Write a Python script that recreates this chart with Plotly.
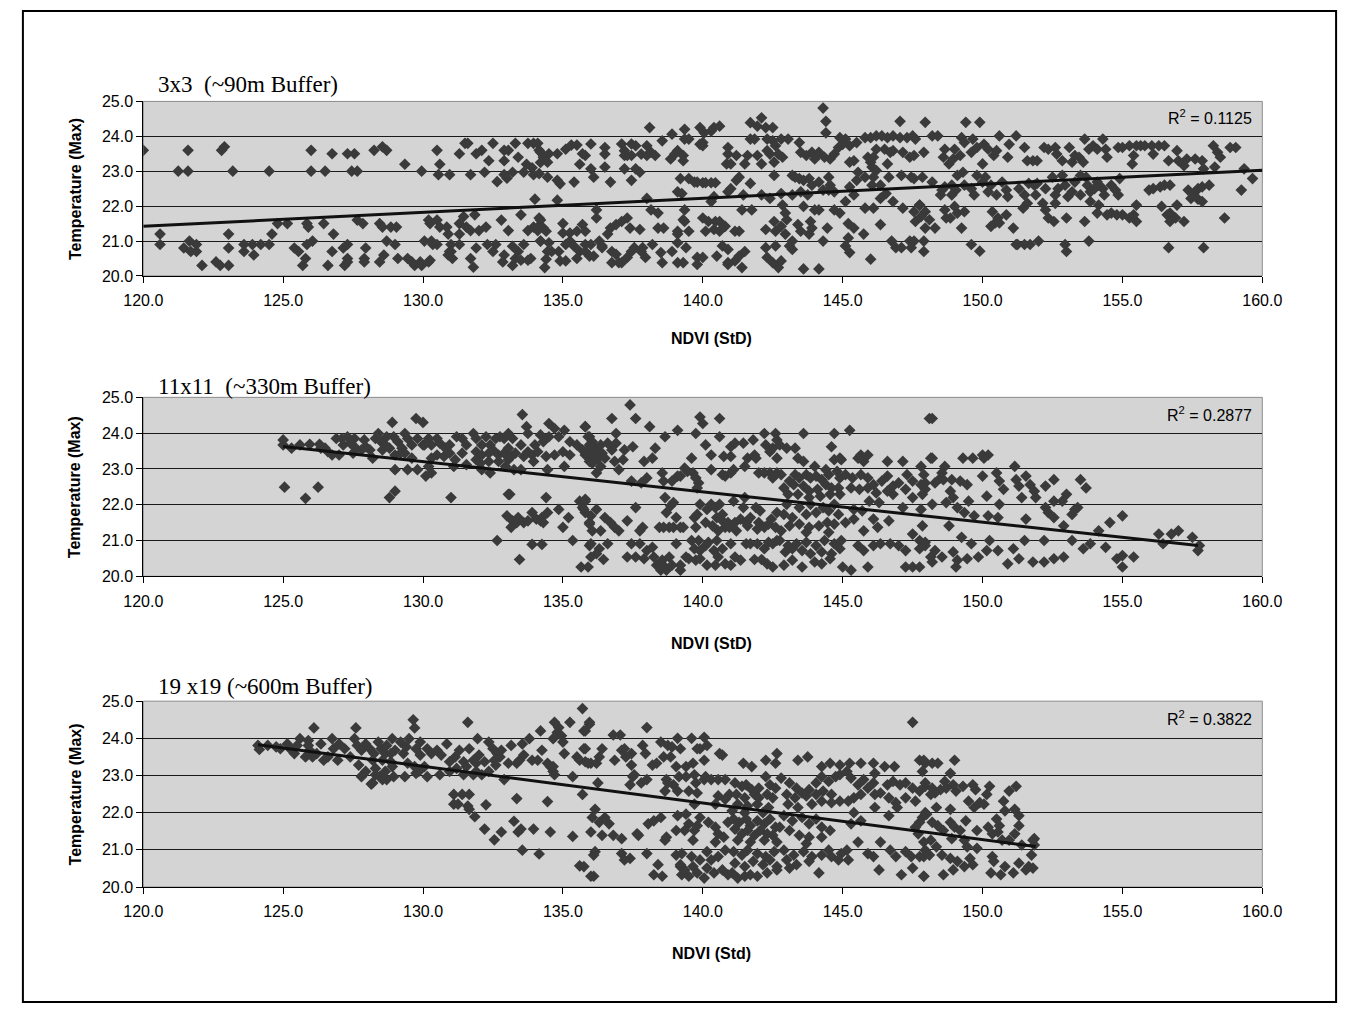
import plotly.graph_objects as go

# ---------------- data ----------------
panel_titles = ["3x3  (~90m Buffer)", "11x11  (~330m Buffer)", "19 x19 (~600m Buffer)"]
x_titles = ["NDVI (StD)", "NDVI (StD)", "NDVI (Std)"]
y_title = "Temperature (Max)"
r2_labels = ["0.1125", "0.2877", "0.3822"]

trend1_x = [120.0, 160.0]
trend1_y = [21.42, 23.03]
trend2_x = [125.0, 157.7]
trend2_y = [23.63, 20.86]
trend3_x = [124.1, 151.9]
trend3_y = [23.83, 21.09]

points1 = [
    (120.0, 23.6), (120.6, 21.2), (120.6, 20.9), (121.25, 23.0), (121.45, 20.8), (121.6, 23.6), (121.6, 23.0),
    (121.65, 21.0), (121.7, 20.7), (121.9, 20.7), (121.9, 20.9), (122.1, 20.3), (122.6, 20.4), (122.75, 20.3),
    (122.8, 23.6), (122.9, 23.7), (123.05, 21.2), (123.05, 20.8), (123.05, 20.3), (123.2, 23.0), (123.6, 20.7),
    (123.6, 20.9), (123.95, 20.6), (123.9, 20.9), (124.2, 20.9), (124.5, 23.0), (124.5, 20.9), (124.6, 21.2),
    (124.8, 21.5), (125.15, 21.5), (125.4, 20.8), (125.55, 20.7), (125.7, 20.3), (125.8, 20.5), (125.85, 20.9),
    (125.85, 21.5), (125.9, 21.4), (126.0, 23.6), (126.0, 23.0), (126.05, 21.0), (126.5, 23.0), (126.45, 21.5),
    (126.6, 20.3), (126.75, 20.7), (126.75, 23.5), (126.8, 21.2), (127.2, 20.3), (127.15, 20.8), (127.3, 20.9),
    (127.3, 20.5), (127.3, 20.4), (127.3, 23.5), (127.55, 23.5), (127.45, 23.0), (127.65, 23.0), (127.65, 21.6),
    (127.85, 21.5), (127.95, 20.8), (127.9, 20.5), (127.9, 20.4), (128.25, 23.6), (128.45, 21.5), (128.55, 21.4),
    (128.85, 21.4), (128.45, 20.4), (128.6, 20.6), (128.55, 23.7), (128.7, 23.6), (128.7, 21.0), (129.0, 20.9),
    (129.05, 21.4), (129.1, 20.5), (129.35, 23.2), (129.45, 20.5), (129.6, 20.4), (129.7, 20.3), (129.9, 20.4),
    (129.95, 23.0), (129.95, 20.3), (130.05, 21.0), (130.2, 20.4), (130.2, 21.6), (130.25, 21.5), (130.25, 20.45),
    (130.3, 21.0), (130.35, 20.9), (130.5, 23.6), (130.55, 22.9), (130.6, 23.2), (130.5, 21.6), (130.6, 21.4),
    (130.5, 20.9), (130.95, 22.9), (130.85, 21.4), (130.9, 21.2), (131.0, 20.9), (131.0, 20.7),
    (131.3, 23.5), (131.5, 23.8), (131.6, 23.8), (131.7, 22.9), (131.9, 23.5), (132.1, 23.6), (132.2, 22.97),
    (132.35, 23.3), (132.5, 23.8), (132.65, 22.7), (132.9, 23.6), (133.05, 23.6), (132.9, 22.9), (133.0, 22.8),
    (132.9, 23.3), (133.2, 22.97), (133.3, 23.8), (133.4, 23.4), (133.6, 22.97), (133.75, 23.8), (133.95, 23.8),
    (133.7, 23.2), (133.9, 23.1), (133.95, 22.9), (134.15, 23.6), (134.2, 23.25), (134.0, 22.2),
    (131.3, 21.2), (131.3, 21.5), (131.45, 21.7), (131.55, 21.4), (131.85, 21.75), (131.7, 21.3), (132.0, 21.3),
    (132.25, 21.4), (132.8, 21.6), (133.05, 21.3), (133.5, 21.75), (133.75, 21.3), (133.95, 21.4), (134.2, 21.6),
    (130.95, 20.7), (130.9, 20.6), (131.05, 20.5), (131.3, 20.9), (131.7, 20.5), (131.9, 20.8), (131.8, 20.25),
    (132.3, 20.9), (132.6, 20.9), (132.5, 20.7), (132.9, 20.6), (132.85, 20.4), (133.2, 20.3), (133.3, 20.5),
    (133.4, 20.7), (133.5, 20.45), (133.2, 20.85), (133.6, 20.9), (133.75, 20.45), (133.85, 20.5), (134.1, 21.3),
    (134.2, 21.0),
    (134.1, 23.8), (134.2, 23.54), (134.3, 23.4), (134.5, 23.5), (134.45, 23.26), (134.8, 23.5), (135.1, 23.63),
    (134.15, 22.93), (134.45, 22.83), (134.8, 22.74), (134.9, 22.64), (134.8, 22.17), (134.15, 21.66),
    (134.3, 21.37), (134.4, 21.28), (134.1, 21.4), (134.2, 21.0), (134.45, 20.7), (134.6, 20.7), (134.5, 20.95),
    (134.4, 20.48), (134.35, 20.24), (134.85, 20.7), (134.9, 20.43), (135.1, 20.43), (135.0, 21.5), (135.0, 21.23),
    (135.1, 20.9),
    (135.3, 23.75), (135.5, 23.75), (135.7, 23.5), (135.6, 23.2), (135.8, 23.45), (136.0, 23.78), (136.0, 23.07),
    (136.1, 22.83), (135.4, 22.69), (136.2, 21.89), (136.2, 21.66), (135.25, 21.23), (135.5, 21.28), (135.7, 21.47),
    (135.8, 21.28), (135.25, 21.0), (135.4, 20.85), (135.6, 20.7), (135.8, 20.7), (135.95, 20.57), (136.1, 20.57),
    (135.5, 20.5), (136.0, 20.9), (135.8, 20.9),
    (136.5, 23.68), (136.5, 23.49), (136.5, 23.12), (136.7, 22.69), (137.1, 23.78), (137.2, 23.59), (137.2, 23.45),
    (137.3, 23.45), (137.2, 23.07), (137.45, 23.78), (137.45, 23.45), (137.45, 22.74), (136.3, 21.0),
    (136.4, 20.81), (136.7, 21.37), (136.9, 21.47), (137.1, 21.56), (137.3, 21.66), (137.4, 21.37), (136.75, 20.7),
    (136.9, 20.62), (136.75, 20.38), (137.0, 20.38), (137.1, 20.38), (137.3, 20.53), (137.45, 20.7), (136.4, 20.86),
    (136.6, 21.2),
    (137.6, 23.73), (137.8, 23.49), (138.0, 23.73), (138.15, 23.54), (138.0, 23.45), (138.3, 23.45), (138.1, 24.25),
    (137.6, 23.07), (137.75, 22.97), (138.55, 23.87), (138.0, 22.22), (138.15, 21.89), (138.4, 21.8),
    (137.75, 21.33), (137.55, 20.81), (137.85, 20.81), (137.95, 20.53), (138.2, 20.9), (138.4, 21.37),
    (138.6, 21.37), (138.5, 20.67), (138.55, 20.38), (137.8, 20.7),
    (138.9, 24.06), (138.85, 23.35), (139.1, 23.59), (139.3, 23.45), (139.35, 24.2), (139.35, 23.92), (139.5, 23.92),
    (139.0, 23.49), (139.3, 23.3), (139.2, 22.79), (139.5, 22.79), (139.1, 22.41), (139.25, 22.36), (139.7, 22.69),
    (139.1, 21.28), (139.35, 21.89), (139.3, 21.61), (139.35, 21.56), (139.1, 21.2), (139.5, 21.28), (139.1, 20.95),
    (138.9, 20.7), (139.1, 20.38), (139.3, 20.38), (139.4, 20.81), (139.8, 20.53), (139.8, 20.33),
    (139.9, 24.25), (140.05, 24.1), (140.3, 24.15), (140.4, 24.25), (140.6, 24.29), (140.0, 23.82), (139.9, 23.77),
    (140.0, 23.73), (140.9, 23.68), (140.9, 23.49), (140.85, 23.21), (141.0, 23.21), (139.8, 22.69), (140.0, 22.67),
    (140.1, 22.67), (140.3, 22.67), (140.45, 22.67), (140.3, 22.13), (140.4, 22.27), (140.9, 22.41), (141.0, 22.5),
    (140.0, 21.66), (140.2, 21.56), (140.45, 21.56), (140.6, 21.56), (140.1, 21.28), (140.4, 21.33), (140.6, 21.28),
    (140.8, 21.42), (140.7, 20.86), (140.9, 20.76), (140.5, 20.57), (140.9, 20.38), (140.0, 20.53),
    (141.2, 23.45), (141.5, 23.21), (141.6, 23.45), (141.7, 23.92), (141.7, 24.39), (141.85, 23.92), (141.95, 24.29),
    (141.95, 23.45), (142.1, 23.21), (142.1, 24.53), (141.2, 22.74), (141.3, 22.83), (141.45, 22.32),
    (141.4, 21.89), (141.75, 21.89), (142.1, 22.32), (141.7, 22.65), (141.3, 21.28), (141.15, 21.28),
    (141.3, 20.57), (141.4, 20.24), (141.5, 20.7), (141.15, 20.43), (140.9, 20.33),
    (142.25, 24.25), (142.5, 24.25), (142.3, 23.92), (142.5, 23.87), (142.6, 23.73), (142.8, 23.92), (142.4, 23.49),
    (142.7, 23.49), (142.85, 23.4), (142.55, 23.26), (143.05, 23.92), (142.3, 23.59), (142.55, 22.88),
    (142.4, 22.22), (142.8, 22.36), (142.85, 22.03), (142.95, 21.8), (143.2, 22.88), (143.2, 22.32),
    (142.25, 21.33), (142.55, 21.56), (142.6, 21.28), (142.8, 21.42), (142.95, 21.2), (143.0, 21.61),
    (142.6, 20.86), (142.3, 20.53), (142.5, 20.38), (142.7, 20.24), (143.2, 20.76), (143.1, 20.86),
    (142.25, 20.81), (142.8, 20.43),
    (143.45, 23.82), (143.5, 23.54), (143.7, 23.45), (143.9, 23.54), (144.0, 23.35), (144.15, 23.54),
    (144.3, 24.81), (144.4, 24.43), (144.4, 24.1), (144.35, 23.4), (143.3, 22.83), (143.45, 22.79), (143.6, 22.74),
    (143.8, 22.79), (143.9, 22.6), (144.15, 22.69), (143.6, 21.99), (143.75, 22.32), (144.0, 21.89),
    (144.15, 21.89), (143.5, 22.41), (144.3, 22.46), (143.4, 21.47), (143.5, 21.28), (143.85, 21.56),
    (143.9, 21.37), (143.8, 21.2), (143.6, 20.2), (144.15, 20.2), (143.2, 21.0), (144.3, 21.0), (144.45, 21.37),
    (144.55, 23.35), (144.7, 23.49), (144.85, 23.68), (144.9, 23.96), (145.1, 23.92), (145.0, 23.77),
    (145.25, 23.73), (145.5, 23.82), (145.4, 23.3), (145.25, 23.26), (144.5, 22.83), (144.55, 22.6),
    (144.7, 22.41), (144.5, 22.46), (145.1, 22.13), (145.25, 22.55), (145.4, 22.32), (145.5, 22.74),
    (145.55, 22.97), (144.7, 21.89), (144.9, 21.8), (145.2, 21.5), (145.4, 21.37), (145.75, 21.2), (145.2, 21.09),
    (145.1, 20.86), (145.25, 20.67),
    (145.8, 23.96), (146.0, 23.96), (146.2, 24.01), (146.4, 24.01), (146.6, 23.96), (146.8, 24.01), (147.05, 24.43),
    (147.05, 23.96), (147.3, 23.96), (147.5, 24.01), (145.9, 23.4), (146.1, 23.4), (146.0, 23.26), (146.2, 23.63),
    (146.5, 23.63), (146.7, 23.54), (146.8, 23.59), (147.15, 23.54), (147.4, 23.4), (146.6, 23.21),
    (146.05, 23.12), (146.2, 23.02), (145.8, 22.83), (146.1, 22.83), (146.35, 22.6), (146.65, 22.83),
    (147.1, 22.88), (147.45, 22.83), (146.05, 22.6), (146.55, 22.36), (146.35, 22.22), (146.8, 22.13),
    (147.15, 21.94), (147.55, 21.84), (147.75, 22.03), (146.1, 21.94), (145.8, 21.94), (146.35, 21.47),
    (146.75, 21.0), (146.9, 20.81), (147.1, 20.81), (147.4, 21.0), (147.45, 20.81), (147.6, 21.56), (146.0, 20.48),
    (147.95, 24.4), (148.2, 24.01), (148.4, 24.01), (147.9, 23.54), (147.6, 23.92), (147.55, 23.45),
    (148.65, 23.63), (148.6, 23.4), (148.8, 23.21), (147.85, 22.83), (148.2, 22.69), (148.5, 22.32),
    (148.55, 22.46), (148.65, 22.55), (147.55, 22.79), (147.75, 22.03), (147.95, 21.84), (147.8, 21.7),
    (148.1, 21.61), (147.95, 21.37), (148.3, 21.37), (148.65, 21.89), (148.7, 21.66), (147.55, 21.0),
    (147.9, 21.0), (147.9, 20.7),
    (149.25, 23.96), (149.4, 24.4), (149.35, 23.82), (149.65, 23.92), (149.9, 24.4), (149.0, 23.63),
    (149.2, 23.45), (148.95, 23.35), (149.6, 23.54), (149.8, 23.68), (149.1, 22.88), (149.3, 22.97),
    (148.9, 22.6), (149.05, 22.46), (149.35, 22.6), (149.6, 22.5), (149.7, 22.32), (149.8, 22.88), (148.9, 22.32),
    (149.0, 21.99), (149.1, 21.8), (149.35, 21.84), (148.85, 21.66), (149.25, 21.37), (149.6, 20.9),
    (149.9, 20.71),
    (150.05, 23.77), (150.2, 23.63), (150.5, 23.59), (150.6, 24.01), (150.4, 23.45), (150.9, 23.4),
    (150.95, 23.77), (150.0, 23.21), (150.1, 22.83), (150.0, 22.69), (150.3, 22.6), (150.7, 22.69),
    (150.2, 22.41), (150.5, 22.32), (150.85, 22.46), (150.9, 22.27), (150.35, 21.84), (150.3, 21.42),
    (150.45, 21.52), (150.55, 21.66), (150.85, 21.75), (151.1, 21.37), (151.2, 20.9), (150.6, 21.52),
    (151.2, 24.01), (151.5, 23.68), (151.6, 23.3), (151.8, 23.3), (151.95, 23.3), (152.2, 23.68), (151.3, 22.5),
    (151.5, 22.32), (151.65, 22.65), (151.85, 22.6), (151.9, 22.32), (151.95, 22.65), (151.45, 21.94),
    (151.6, 22.08), (151.25, 20.9), (151.5, 20.9), (151.7, 20.9), (152.0, 21.0), (152.15, 22.08),
    (152.25, 21.89), (152.35, 21.66), (152.55, 21.56),
    (152.35, 23.63), (152.6, 23.68), (152.65, 23.49), (152.85, 23.3), (153.1, 23.68), (153.2, 23.26),
    (153.3, 23.45), (152.25, 22.5), (152.5, 22.83), (152.7, 22.5), (152.85, 22.88), (152.95, 22.6),
    (153.2, 22.41), (153.05, 22.27), (153.3, 22.69), (152.6, 22.32), (153.0, 21.66), (152.95, 20.9),
    (153.0, 20.7), (152.6, 22.08),
    (153.45, 23.4), (153.65, 23.92), (153.8, 23.63), (153.95, 23.73), (154.1, 23.63), (154.3, 23.92),
    (154.4, 23.63), (154.45, 23.4), (153.6, 23.26), (153.5, 22.88), (153.7, 22.83), (153.75, 22.6),
    (153.85, 22.41), (154.0, 22.5), (154.1, 22.69), (154.15, 22.6), (154.3, 22.5), (154.35, 22.32),
    (153.5, 22.32), (153.8, 21.0), (153.85, 22.13), (154.1, 21.8), (154.15, 22.03), (154.45, 21.75),
    (153.65, 21.56),
    (154.85, 23.68), (155.0, 23.68), (155.25, 23.73), (155.5, 23.73), (155.4, 23.45), (155.35, 23.21),
    (154.6, 22.6), (154.75, 22.46), (154.9, 22.79), (154.85, 22.32), (155.0, 21.75), (155.25, 21.66),
    (155.5, 22.03), (155.5, 21.56), (154.6, 21.8), (155.4, 21.75), (154.8, 21.75),
    (155.65, 23.73), (155.8, 23.73), (156.05, 23.73), (156.3, 23.73), (156.5, 23.73), (156.1, 23.49),
    (156.65, 23.3), (155.95, 22.46), (156.1, 22.5), (156.35, 22.55), (156.5, 22.6), (156.7, 22.6),
    (156.4, 21.99), (156.6, 21.75), (156.7, 21.8), (156.7, 21.56), (156.65, 20.81),
    (156.95, 23.59), (157.0, 23.3), (157.2, 23.16), (157.3, 23.35), (157.6, 23.35), (157.85, 23.3),
    (157.9, 23.07), (158.25, 23.73), (158.4, 23.54), (158.5, 23.4), (158.3, 23.12), (158.85, 23.68),
    (159.05, 23.68), (159.35, 23.07), (157.35, 22.46), (157.6, 22.41), (157.7, 22.5), (157.85, 22.55),
    (158.1, 22.6), (159.25, 22.46), (159.65, 22.79), (157.45, 22.22), (157.7, 22.2), (157.85, 22.13),
    (157.9, 20.81), (157.2, 21.56), (156.9, 21.66), (158.65, 21.66), (156.95, 22.03),
]

points2 = [
    (125.0, 23.81), (125.0, 23.67), (125.3, 23.58), (125.6, 23.67), (125.95, 23.69), (126.3, 23.69),
    (126.5, 23.58), (126.75, 23.39), (127.0, 23.39), (126.35, 23.58), (125.05, 22.49), (125.8, 22.18),
    (126.25, 22.49), (126.6, 23.48),
    (126.9, 23.85), (127.1, 23.85), (127.3, 23.9), (127.55, 23.85), (127.15, 23.67), (127.4, 23.72),
    (127.6, 23.58), (127.5, 23.44), (127.9, 23.81), (127.95, 23.62), (128.1, 23.53), (128.2, 23.3),
    (127.8, 23.53), (128.3, 23.85), (128.4, 23.99),
    (128.5, 23.76), (128.65, 23.67), (128.7, 23.9), (128.55, 23.53), (128.9, 24.3), (128.95, 23.9),
    (129.1, 23.76), (129.25, 23.58), (129.0, 23.39), (129.35, 23.99), (129.45, 23.85), (129.6, 23.67),
    (129.75, 24.41), (130.0, 24.3), (129.8, 23.85), (130.0, 23.67), (129.0, 22.98), (129.45, 22.98),
    (129.8, 22.98), (129.6, 23.3), (129.35, 23.44), (128.8, 22.2), (129.0, 22.38), (129.2, 23.44),
    (128.8, 23.58),
    (130.2, 23.85), (130.3, 23.67), (130.5, 23.85), (130.6, 23.72), (130.8, 23.58), (130.95, 23.67),
    (131.2, 23.9), (131.4, 23.85), (131.55, 23.67), (130.3, 23.3), (130.5, 23.39), (130.75, 23.35),
    (130.95, 23.44), (131.15, 23.26), (131.4, 23.44), (130.2, 23.07), (130.3, 22.89), (130.1, 22.8),
    (131.1, 23.07), (131.55, 23.12), (131.0, 22.2), (130.05, 23.67),
    (131.8, 23.99), (131.9, 23.85), (132.1, 23.67), (132.25, 23.9), (132.4, 23.67), (132.6, 23.85),
    (132.75, 23.9), (132.9, 23.85), (133.05, 23.99), (133.2, 23.85), (131.9, 23.48), (132.1, 23.39),
    (132.35, 23.44), (132.5, 23.53), (132.7, 23.39), (132.9, 23.44), (133.05, 23.58), (133.3, 23.44),
    (131.9, 23.26), (132.35, 23.21), (132.7, 23.21), (133.05, 23.26), (133.15, 23.35), (132.1, 22.98),
    (132.4, 22.89), (132.05, 23.16), (132.95, 23.07), (133.25, 22.98), (133.5, 22.98), (133.05, 22.29),
    (133.0, 21.69), (133.15, 21.37), (132.65, 21.0),
    (133.55, 24.52), (133.7, 24.18), (133.75, 23.99), (133.5, 23.67), (133.75, 23.48), (133.9, 23.39),
    (133.6, 23.35), (134.0, 23.67), (134.2, 23.95), (134.3, 23.76), (134.5, 24.27), (134.5, 23.9),
    (134.7, 24.13), (134.85, 23.9), (135.05, 24.08), (135.25, 23.76), (135.5, 23.67), (135.8, 24.18),
    (135.95, 23.9), (134.1, 23.48), (134.4, 23.35), (134.7, 23.39), (135.0, 23.48), (135.25, 23.39),
    (135.7, 23.53), (135.8, 23.39), (135.95, 23.48), (133.95, 23.21), (134.45, 22.98), (135.05, 23.07),
    (135.95, 23.21),
    (133.1, 22.29), (134.4, 22.2), (135.6, 22.1), (135.7, 21.92), (135.8, 22.15), (135.8, 21.78),
    (133.4, 21.64), (133.2, 21.55), (133.35, 21.5), (133.6, 21.5), (133.75, 21.55), (133.9, 21.78),
    (134.05, 21.6), (134.25, 21.64), (134.45, 21.78), (134.2, 21.55), (134.3, 21.5), (134.85, 21.87),
    (135.2, 21.64), (135.0, 21.37), (135.95, 21.5), (136.05, 21.27), (135.35, 21.0), (133.9, 20.89),
    (134.25, 20.89), (133.45, 20.47), (135.65, 20.26), (136.0, 20.54), (135.95, 20.86),
    (135.8, 24.18), (136.75, 24.41), (137.4, 24.79), (136.9, 23.99), (135.9, 23.9), (136.05, 23.76),
    (136.2, 23.58), (135.95, 23.67), (136.35, 23.67), (136.6, 23.72), (136.9, 23.72), (135.8, 23.48),
    (136.05, 23.39), (136.4, 23.44), (136.75, 23.53), (136.25, 23.3), (136.5, 23.3), (136.05, 23.16),
    (136.35, 23.07), (136.85, 23.21), (137.15, 23.26), (137.2, 23.53), (136.2, 22.89), (137.0, 22.98),
    (137.5, 23.62), (137.45, 22.66), (135.8, 22.1), (135.75, 21.87), (136.2, 21.87), (136.0, 21.69),
    (136.5, 21.64), (136.7, 21.5), (136.85, 21.37), (137.0, 21.27), (137.3, 21.55), (135.95, 21.46),
    (136.35, 21.27), (136.0, 20.91), (136.3, 20.77), (136.2, 20.63), (136.45, 20.47), (135.9, 20.26),
    (136.6, 20.91), (137.3, 20.54), (137.45, 20.91),
    (137.6, 24.41), (138.1, 24.18), (137.9, 23.21), (138.2, 23.3), (138.3, 23.58), (138.65, 23.9),
    (139.1, 24.08), (138.55, 22.89), (138.6, 22.66), (138.0, 22.75), (137.8, 22.61), (139.1, 22.8),
    (138.9, 22.66), (137.6, 21.92), (137.85, 21.37), (137.75, 21.27), (138.45, 21.37), (138.6, 21.37),
    (138.8, 21.37), (138.95, 21.37), (138.7, 21.78), (138.85, 21.97), (138.95, 22.06), (138.65, 22.2),
    (139.05, 21.64), (139.2, 21.37), (137.75, 20.91), (137.6, 20.54), (137.9, 20.49), (138.0, 20.72),
    (138.25, 20.54), (138.35, 20.31), (138.55, 20.45), (138.65, 20.26), (138.8, 20.54), (138.9, 20.31),
    (138.5, 20.17), (138.7, 20.17), (139.05, 20.91), (139.2, 20.17), (138.2, 20.81),
    (139.75, 23.99), (139.9, 24.45), (140.0, 24.27), (140.6, 24.41), (140.6, 23.9), (140.1, 23.67),
    (140.3, 23.39), (140.75, 23.35), (139.6, 23.3), (140.3, 22.98), (139.35, 23.02), (139.45, 22.93),
    (139.65, 22.89), (139.75, 22.75), (139.85, 22.61), (139.8, 22.47), (139.2, 22.8), (140.8, 22.8),
    (140.7, 22.84), (139.9, 22.01), (140.15, 21.87), (140.3, 22.01), (140.45, 21.92), (140.6, 22.01),
    (140.7, 21.73), (139.7, 21.64), (139.8, 21.73), (140.1, 21.5), (140.35, 21.41), (140.5, 21.64),
    (140.7, 21.55), (140.8, 21.37), (140.9, 21.5), (140.55, 21.27), (139.3, 21.37), (139.75, 21.37),
    (139.6, 21.0), (139.7, 20.77), (139.85, 21.0), (139.9, 20.72), (140.1, 20.86), (140.2, 20.95),
    (140.4, 20.72), (140.5, 21.0), (140.7, 20.77), (139.5, 20.49), (139.75, 20.45), (139.9, 20.49),
    (140.15, 20.31), (140.45, 20.31), (140.55, 20.54), (140.8, 20.35), (139.2, 20.31), (139.4, 20.54),
    (141.0, 23.62), (141.15, 23.72), (141.45, 23.72), (141.8, 23.81), (142.2, 23.99), (142.6, 23.99),
    (142.25, 23.67), (142.5, 23.58), (142.65, 23.81), (141.0, 23.35), (141.6, 23.3), (141.85, 23.39),
    (141.9, 23.3), (141.5, 23.07), (141.1, 22.98), (142.4, 23.48), (142.65, 23.3), (141.0, 22.89),
    (142.0, 22.89), (142.2, 22.89), (142.4, 22.89), (142.65, 22.89), (142.5, 22.75), (141.1, 22.1),
    (141.5, 22.2), (141.45, 21.92), (141.9, 21.92), (142.05, 21.83), (141.15, 21.5), (141.35, 21.6),
    (141.55, 21.5), (141.7, 21.64), (141.6, 21.41), (142.0, 21.5), (142.2, 21.37), (142.35, 21.46),
    (142.45, 21.6), (142.65, 21.78), (140.95, 21.37), (141.2, 21.27), (141.95, 21.32), (142.6, 21.37),
    (141.0, 20.91), (141.55, 20.91), (141.7, 20.91), (141.95, 20.91), (142.2, 20.77), (142.35, 20.95),
    (142.5, 20.91), (142.65, 21.0), (141.15, 20.54), (141.35, 20.45), (141.85, 20.47), (142.1, 20.47),
    (142.3, 20.35), (142.5, 20.26), (141.0, 20.31),
    (142.75, 23.67), (143.0, 23.58), (143.3, 23.58), (143.6, 23.99), (143.4, 23.3), (143.6, 23.21),
    (144.0, 23.07), (144.4, 22.98), (144.6, 23.62), (144.7, 23.26), (144.7, 23.99), (144.9, 23.3),
    (144.95, 23.26), (145.25, 24.08), (142.8, 22.84), (143.1, 22.66), (143.3, 22.84), (143.45, 22.75),
    (143.7, 22.84), (143.85, 22.75), (144.05, 22.8), (144.25, 22.7), (144.5, 22.84), (144.8, 22.93),
    (144.9, 22.75), (142.9, 22.47), (143.25, 22.56), (143.6, 22.52), (143.8, 22.38), (144.1, 22.43),
    (144.4, 22.56), (144.6, 22.47), (144.85, 22.47), (143.05, 22.29), (143.4, 22.29), (143.8, 22.2),
    (144.2, 22.24), (144.55, 22.29), (144.9, 22.29), (143.0, 22.01), (143.45, 21.92), (143.85, 22.01),
    (144.3, 21.92), (144.7, 22.01), (142.9, 21.73), (143.2, 21.64), (143.7, 21.73), (144.05, 21.78),
    (144.5, 21.83), (144.85, 21.73), (143.1, 21.41), (143.45, 21.46), (143.8, 21.37), (144.15, 21.41),
    (144.45, 21.5), (144.7, 21.46), (145.1, 21.5), (142.8, 21.27), (143.7, 21.23), (144.5, 21.23),
    (142.75, 21.0), (143.05, 20.86), (143.35, 20.91), (143.7, 20.95), (144.05, 20.86), (144.35, 21.0),
    (144.7, 20.91), (144.95, 21.0), (142.95, 20.68), (143.2, 20.77), (143.55, 20.72), (143.85, 20.63),
    (144.25, 20.68), (144.6, 20.63), (144.9, 20.77), (142.9, 20.31), (143.2, 20.45), (143.55, 20.26),
    (144.0, 20.4), (144.25, 20.35), (144.55, 20.49), (145.0, 20.26), (145.3, 20.17),
    (145.65, 23.39), (145.9, 23.39), (145.75, 23.21), (146.6, 23.21), (147.15, 23.21), (147.8, 23.07),
    (148.1, 24.41), (148.15, 23.3), (145.55, 23.3), (145.1, 22.84), (145.35, 22.75), (145.65, 22.84),
    (145.9, 22.75), (146.1, 22.56), (146.4, 22.66), (146.6, 22.8), (146.8, 22.52), (147.0, 22.61),
    (147.3, 22.84), (147.5, 22.66), (147.8, 22.56), (147.95, 22.61), (145.3, 22.47), (145.6, 22.43),
    (145.9, 22.47), (146.2, 22.33), (146.6, 22.38), (146.8, 22.29), (147.25, 22.43), (147.5, 22.2),
    (147.85, 22.29), (145.95, 22.1), (146.3, 22.06), (145.4, 21.87), (145.7, 21.83), (147.15, 21.92),
    (147.8, 21.87), (145.4, 21.6), (146.1, 21.6), (146.65, 21.55), (146.25, 21.37), (145.75, 21.27),
    (147.5, 21.18), (145.55, 20.86), (145.75, 20.72), (146.1, 20.86), (146.35, 20.91), (146.7, 20.91),
    (147.0, 20.86), (147.25, 20.72), (147.75, 21.0), (147.95, 20.95), (147.75, 20.77), (148.15, 20.54),
    (145.9, 20.26), (147.25, 20.26), (147.5, 20.26), (147.75, 20.26),
    (148.2, 24.41), (148.2, 23.3), (148.65, 23.07), (149.3, 23.3), (149.65, 23.3), (150.0, 23.39),
    (150.2, 23.39), (150.05, 23.3), (151.15, 23.07), (148.55, 22.89), (148.5, 22.75), (147.9, 22.84),
    (148.3, 22.61), (148.6, 22.7), (148.9, 22.7), (149.2, 22.66), (149.45, 22.56), (150.0, 22.8),
    (150.5, 22.89), (150.6, 22.66), (150.75, 22.43), (151.2, 22.7), (151.3, 22.52), (151.55, 22.8),
    (151.7, 22.56), (151.85, 22.38), (152.25, 22.52), (152.55, 22.7), (153.5, 22.7), (153.7, 22.47),
    (147.95, 22.43), (148.85, 22.38), (148.95, 22.2), (149.5, 22.1), (150.15, 22.24), (150.6, 22.01),
    (151.4, 22.2), (151.9, 22.2), (152.55, 22.1), (152.85, 22.1), (153.0, 22.29), (148.2, 22.01),
    (148.7, 22.06), (149.1, 21.92), (149.35, 21.78), (149.7, 21.69), (150.2, 21.69), (150.55, 21.64),
    (151.55, 21.6), (152.25, 21.92), (152.35, 21.78), (152.55, 21.64), (153.2, 21.73), (153.4, 21.92),
    (153.3, 21.87), (155.0, 21.69), (154.55, 21.5), (147.85, 21.41), (148.8, 21.41), (149.25, 21.09),
    (149.6, 20.91), (150.25, 21.0), (151.1, 20.77), (151.5, 21.0), (152.2, 21.0), (152.9, 21.41),
    (153.2, 21.0), (153.6, 20.77), (153.85, 20.91), (154.15, 21.27), (154.4, 20.81), (147.95, 20.86),
    (148.3, 20.72), (148.55, 20.54), (148.95, 20.68), (149.1, 20.45), (149.45, 20.49), (149.85, 20.54),
    (150.15, 20.72), (150.55, 20.72), (150.9, 20.35), (151.3, 20.49), (151.8, 20.4), (152.2, 20.4),
    (152.55, 20.49), (152.9, 20.54), (154.8, 20.49), (155.0, 20.26), (155.4, 20.54), (155.0, 20.58),
    (148.2, 20.4), (149.05, 20.26), (156.3, 21.18), (156.45, 20.91), (156.75, 21.18), (157.0, 21.27),
    (157.5, 21.09), (157.7, 20.72), (157.75, 20.86),
]

points3 = [
    (124.1, 23.81), (124.15, 23.7), (124.45, 23.81), (124.75, 23.77), (124.9, 23.72), (125.15, 23.85),
    (125.3, 23.68), (125.5, 23.81), (125.6, 23.99), (125.8, 23.5), (125.9, 23.94), (125.95, 23.68),
    (126.1, 24.28), (126.05, 23.5), (126.2, 23.59), (126.45, 23.41), (126.6, 23.5), (126.75, 23.99),
    (126.8, 23.72), (126.95, 23.41), (127.0, 23.85), (125.4, 23.59), (126.35, 23.85), (125.9, 23.81),
    (127.2, 23.72), (127.4, 23.5), (127.55, 23.99), (127.6, 24.28), (127.65, 23.81), (127.7, 23.28),
    (127.85, 23.02), (127.8, 23.68), (127.95, 23.85), (128.1, 23.72), (128.25, 23.59), (128.3, 23.19),
    (128.2, 23.41), (128.4, 23.9), (128.5, 23.72), (128.55, 23.41), (128.65, 23.59), (128.7, 23.81),
    (128.9, 23.99), (128.85, 23.37), (129.0, 23.68), (129.2, 23.9), (129.3, 23.59), (129.4, 23.77),
    (129.5, 23.99), (129.65, 24.5), (129.7, 24.28), (129.75, 23.72), (129.9, 23.9), (129.9, 23.55),
    (128.85, 23.59), (127.8, 22.97), (128.2, 22.8), (128.15, 22.77), (128.3, 23.02), (128.45, 22.97),
    (128.55, 22.89), (128.7, 22.89), (128.95, 22.97), (129.35, 22.97), (129.75, 23.06), (129.85, 23.11),
    (130.15, 22.97), (128.9, 23.24), (129.45, 23.33), (129.7, 23.24), (130.05, 23.24), (128.65, 23.11),
    (127.95, 23.11),
    (130.15, 23.72), (130.3, 23.59), (130.5, 23.68), (130.65, 23.55), (130.85, 23.85), (130.95, 23.37),
    (131.15, 23.5), (131.3, 23.68), (131.45, 23.37), (131.6, 24.43), (131.65, 23.72), (131.8, 23.41),
    (131.95, 23.99), (132.0, 23.55), (132.2, 23.37), (132.35, 23.9), (132.5, 23.72), (132.65, 23.59),
    (132.75, 23.5), (132.55, 23.41), (131.9, 23.33), (130.95, 23.11), (131.2, 23.19), (131.55, 23.24),
    (131.9, 23.11), (132.35, 23.11), (132.6, 23.28), (130.6, 23.02), (131.45, 23.02), (131.8, 23.02),
    (132.1, 23.02), (132.9, 22.89), (133.05, 23.33), (132.8, 23.68),
    (131.1, 22.49), (131.4, 22.49), (131.65, 22.49), (131.1, 22.23), (131.25, 22.23), (131.6, 22.18),
    (131.65, 22.09), (131.85, 21.89), (132.2, 21.56), (132.25, 22.21), (132.55, 21.27), (132.8, 21.48),
    (133.25, 21.77), (133.35, 22.38), (133.4, 21.48), (133.5, 21.56), (133.55, 20.99), (133.95, 21.56),
    (134.15, 20.89), (134.45, 22.3), (134.55, 21.48), (135.35, 21.36), (135.6, 20.57), (136.0, 20.29),
    (133.15, 23.81), (133.35, 23.33), (133.45, 23.41), (133.55, 23.85), (133.6, 23.55), (133.8, 23.99),
    (133.9, 23.41), (134.1, 23.41), (134.2, 24.2), (134.25, 23.68), (134.45, 23.33), (134.55, 23.24),
    (134.65, 23.11), (134.65, 23.99), (134.7, 24.43), (134.8, 24.16), (134.85, 24.29), (134.95, 24.07),
    (135.0, 23.9), (135.05, 23.59), (135.25, 24.43), (135.35, 22.97), (135.5, 23.5), (135.6, 23.41),
    (135.7, 24.8), (135.75, 24.2), (135.8, 23.37), (135.8, 23.72), (135.95, 24.38), (136.0, 23.33),
    (134.65, 23.24), (134.7, 23.02),
    (135.95, 24.43), (135.8, 24.2), (136.8, 24.09), (137.05, 24.09), (135.75, 23.72), (135.9, 23.33),
    (136.2, 23.33), (136.4, 23.72), (136.3, 23.5), (136.85, 23.41), (137.1, 23.68), (137.25, 23.5),
    (137.45, 23.59), (137.45, 23.28), (137.2, 23.72), (136.25, 22.8), (137.4, 22.75), (137.5, 22.97),
    (135.7, 22.49), (136.15, 22.09), (136.05, 21.87), (136.3, 21.74), (136.5, 21.87), (136.65, 21.7),
    (136.0, 21.48), (136.4, 21.39), (136.8, 21.39), (137.1, 21.3), (136.15, 20.95), (136.1, 20.86),
    (137.1, 20.9), (137.4, 20.77), (137.2, 20.73), (136.1, 20.29), (135.75, 20.55),
    (138.0, 24.29), (137.85, 23.81), (137.95, 23.59), (138.2, 23.28), (138.5, 23.9), (138.6, 23.5),
    (138.75, 23.81), (138.9, 23.77), (139.1, 24.0), (139.2, 23.72), (138.35, 23.33), (138.85, 23.5),
    (139.05, 23.24), (137.55, 23.02), (137.8, 22.8), (138.0, 22.89), (138.7, 22.89), (138.65, 22.58),
    (138.75, 22.8), (138.95, 22.75), (139.15, 22.97), (139.1, 22.58), (137.65, 21.43), (137.7, 21.39),
    (138.05, 21.7), (138.25, 21.78), (138.5, 21.87), (138.7, 21.34), (138.65, 21.26), (139.05, 21.52),
    (139.1, 21.92), (138.0, 20.9), (138.4, 20.6), (138.25, 20.33), (138.55, 20.29), (139.05, 20.86),
    (139.2, 20.55), (139.25, 20.33),
    (139.6, 24.0), (139.9, 23.72), (140.05, 24.03), (140.15, 23.81), (139.8, 23.72), (139.4, 23.24),
    (139.65, 23.33), (140.05, 23.41), (140.6, 23.59), (140.7, 23.55), (139.4, 22.97), (139.7, 23.02),
    (140.1, 22.97), (140.05, 22.89), (139.75, 22.8), (139.5, 22.58), (139.8, 22.53), (139.7, 22.23),
    (140.3, 22.89), (140.55, 22.89), (140.8, 22.89), (140.45, 22.23), (140.55, 22.45), (140.8, 22.36),
    (140.95, 22.49), (139.35, 21.52), (139.5, 21.7), (139.7, 21.52), (139.65, 21.26), (139.8, 21.65),
    (139.4, 21.96), (139.9, 21.87), (140.2, 21.74), (140.45, 21.61), (140.55, 21.43), (140.75, 21.34),
    (140.45, 21.21), (140.9, 21.74), (139.25, 20.9), (139.6, 20.82), (139.9, 20.73), (140.15, 20.95),
    (140.3, 20.73), (140.55, 20.82), (140.8, 20.99), (139.2, 20.6), (139.35, 20.46), (139.65, 20.55),
    (139.8, 20.38), (140.15, 20.51), (140.4, 20.38), (140.7, 20.46), (140.9, 20.33), (139.5, 20.29),
    (140.05, 20.24),
    (141.45, 23.33), (141.75, 23.24), (142.25, 23.41), (142.65, 23.59), (142.6, 23.33), (141.15, 22.8),
    (141.4, 22.71), (141.55, 22.75), (141.75, 22.62), (142.0, 22.66), (142.25, 22.97), (142.4, 22.75),
    (142.6, 22.66), (141.2, 22.49), (141.5, 22.4), (141.85, 22.49), (142.0, 22.4), (142.3, 22.49),
    (142.5, 22.4), (141.25, 22.23), (141.6, 22.18), (141.95, 22.23), (142.35, 22.14), (141.05, 22.05),
    (141.5, 22.0), (142.15, 22.0), (141.1, 21.83), (141.3, 21.74), (141.55, 21.83), (141.7, 21.65),
    (141.95, 21.78), (142.2, 21.7), (142.4, 21.83), (142.6, 21.61), (141.15, 21.56), (141.4, 21.43),
    (141.6, 21.52), (141.85, 21.39), (142.05, 21.52), (142.3, 21.43), (142.5, 21.39), (141.25, 21.26),
    (141.7, 21.21), (142.2, 21.26), (142.65, 21.21), (141.1, 20.95), (141.4, 20.86), (141.6, 20.99),
    (141.95, 20.9), (142.25, 20.82), (142.55, 20.95), (141.15, 20.64), (141.5, 20.55), (141.8, 20.69),
    (142.15, 20.6), (142.4, 20.73), (142.65, 20.55), (141.05, 20.38), (141.25, 20.24), (141.5, 20.29),
    (141.7, 20.33), (141.95, 20.29), (142.3, 20.38), (142.65, 20.46),
    (143.4, 23.41), (143.75, 23.5), (144.25, 23.24), (144.55, 23.33), (144.9, 23.28), (142.8, 22.93),
    (143.1, 22.8), (143.35, 22.66), (143.55, 22.53), (143.8, 22.62), (144.05, 22.8), (144.25, 22.97),
    (144.5, 22.84), (144.75, 22.97), (144.9, 23.02), (143.0, 22.49), (143.3, 22.4), (143.7, 22.45),
    (144.05, 22.49), (144.3, 22.58), (144.6, 22.49), (143.05, 22.23), (143.4, 22.14), (143.9, 22.23),
    (144.25, 22.31), (144.6, 22.27), (144.9, 22.31), (142.9, 21.92), (143.2, 21.78), (143.55, 21.87),
    (143.8, 21.7), (144.05, 21.83), (144.25, 21.61), (144.55, 21.52), (142.75, 21.61), (143.1, 21.52),
    (143.45, 21.39), (143.8, 21.34), (144.25, 21.34), (143.7, 21.17), (142.9, 20.99), (143.25, 20.86),
    (143.6, 20.95), (143.9, 20.82), (144.25, 20.86), (144.6, 20.82), (144.95, 20.9), (143.0, 20.73),
    (143.35, 20.6), (143.8, 20.69), (143.1, 20.51), (144.15, 20.38), (144.5, 20.99), (144.85, 20.73),
    (145.25, 23.33), (145.65, 23.33), (146.1, 23.33), (146.5, 23.24), (146.85, 23.24), (147.5, 24.43),
    (147.75, 23.41), (147.95, 23.33), (147.85, 23.11), (146.15, 23.06), (145.15, 23.11), (145.3, 22.93),
    (145.55, 22.75), (145.75, 22.89), (145.9, 22.66), (146.1, 22.8), (146.35, 22.53), (146.6, 22.75),
    (146.8, 22.84), (147.05, 22.75), (147.25, 22.8), (147.5, 22.66), (147.75, 22.58), (147.95, 22.71),
    (148.15, 22.49), (145.2, 22.31), (145.4, 22.4), (145.65, 22.49), (146.15, 22.49), (146.65, 22.4),
    (146.9, 22.27), (147.25, 22.4), (147.6, 22.31), (146.15, 22.14), (146.95, 22.14), (145.4, 22.0),
    (147.95, 22.0), (147.85, 21.87), (145.3, 21.7), (145.65, 21.78), (146.65, 21.92), (147.75, 21.74),
    (147.6, 21.61), (145.55, 21.21), (146.35, 21.21), (147.7, 21.43), (147.9, 21.21), (145.15, 20.99),
    (145.9, 20.9), (146.1, 20.82), (146.7, 20.99), (146.9, 20.82), (147.25, 20.95), (147.45, 20.82),
    (147.75, 20.82), (147.95, 20.99), (145.2, 20.73), (146.3, 20.46), (147.1, 20.33), (147.5, 20.51),
    (147.9, 20.29),
    (147.9, 23.41), (148.2, 23.33), (148.4, 23.33), (149.0, 23.41), (148.85, 23.06), (148.65, 22.84),
    (147.95, 22.8), (148.2, 22.66), (148.3, 22.53), (148.5, 22.62), (148.7, 22.66), (148.95, 22.75),
    (149.05, 22.58), (149.3, 22.71), (149.65, 22.75), (149.75, 22.62), (150.25, 22.71), (150.15, 22.49),
    (150.95, 22.58), (151.2, 22.71), (149.5, 22.31), (149.7, 22.14), (149.9, 22.27), (150.05, 22.23),
    (150.75, 22.31), (148.35, 22.14), (148.85, 22.09), (150.8, 22.05), (151.15, 22.09), (151.3, 21.92),
    (148.0, 21.96), (148.2, 21.74), (148.4, 21.65), (148.6, 21.52), (148.85, 21.74), (149.0, 21.61),
    (149.2, 21.52), (149.4, 21.78), (149.8, 21.52), (150.2, 21.61), (150.5, 21.83), (150.6, 21.65),
    (150.55, 21.48), (151.15, 21.43), (151.3, 21.65), (148.15, 21.26), (148.35, 21.08), (148.9, 21.3),
    (149.35, 21.26), (149.45, 21.08), (149.8, 21.04), (150.35, 21.43), (150.7, 21.26), (150.95, 21.26),
    (151.4, 21.13), (151.8, 21.26), (151.85, 21.13), (151.75, 20.86), (147.9, 20.82), (148.1, 20.86),
    (148.55, 20.86), (148.85, 20.77), (149.1, 20.69), (149.55, 20.77), (150.35, 20.82), (150.4, 20.69),
    (150.8, 20.55), (151.3, 20.64), (151.55, 20.46), (147.9, 20.29), (148.6, 20.33), (148.95, 20.46),
    (149.35, 20.55), (149.65, 20.6), (150.3, 20.38), (150.65, 20.33), (151.1, 20.38), (151.65, 20.55),
    (151.8, 20.51), (151.85, 21.3),
]

# ---------------- layout (pixel geometry of the reference) ----------------
W, H = 1359, 1014
PLOT_LEFT, PLOT_RIGHT = 127, 1280
panel_px = [(95, 272.5), (396, 578), (705, 894)]     # top, bottom pixel of each plot area
title_y_px = [78, 385, 690]
xtitle_y_px = [336, 646, 962]
r2_y_px = [111, 413, 722]

FONT = "Liberation Sans, Arial, sans-serif"
SERIF = "Liberation Serif, Times New Roman, serif"
MARKER_COLOR = "#3a3a3a"
PLOT_BG = "#d4d4d4"

def px_x(p):
    return p / W

def px_y(p):
    return 1 - p / H

fig = go.Figure()
all_points = [points1, points2, points3]
trends = [(trend1_x, trend1_y), (trend2_x, trend2_y), (trend3_x, trend3_y)]

shapes = []
annotations = []
for i in range(3):
    sfx = "" if i == 0 else str(i + 1)
    xs = [p[0] for p in all_points[i]]
    ys = [p[1] for p in all_points[i]]
    fig.add_trace(go.Scatter(
        x=xs, y=ys, mode="markers", xaxis="x" + sfx, yaxis="y" + sfx,
        marker=dict(symbol="diamond", size=9, color=MARKER_COLOR, line=dict(width=0)),
        showlegend=False, hoverinfo="skip"))
    fig.add_trace(go.Scatter(
        x=trends[i][0], y=trends[i][1], mode="lines", xaxis="x" + sfx, yaxis="y" + sfx,
        line=dict(color="#111111", width=3), showlegend=False, hoverinfo="skip", cliponaxis=False))

    top, bot = panel_px[i]
    ydom = [px_y(bot), px_y(top)]
    xdom = [px_x(PLOT_LEFT), px_x(PLOT_RIGHT)]
    fig.layout["xaxis" + sfx] = dict(
        domain=xdom, range=[120, 160], dtick=5, tick0=120, tickformat=".1f",
        anchor="y" + sfx, showgrid=False, zeroline=False,
        showline=True, linecolor="black", linewidth=1,
        ticks="outside", ticklen=6, tickcolor="black", ticklabelstandoff=4,
        tickfont=dict(family=FONT, size=16, color="black"), fixedrange=True)
    fig.layout["yaxis" + sfx] = dict(
        domain=ydom, range=[20, 25], dtick=1, tick0=20, tickformat=".1f",
        anchor="x" + sfx, showgrid=True, gridcolor="#1a1a1a", gridwidth=1, zeroline=False,
        showline=True, linecolor="black", linewidth=1,
        ticks="outside", ticklen=6, tickcolor="black",
        tickfont=dict(family=FONT, size=16, color="black"), fixedrange=True)

    # plot area background + grey top/right border
    shapes.append(dict(type="rect", xref="paper", yref="paper",
                       x0=xdom[0], x1=xdom[1], y0=ydom[0], y1=ydom[1],
                       fillcolor=PLOT_BG, line=dict(color="#8c8c8c", width=1), layer="below"))

    annotations.append(dict(text=panel_titles[i], xref="paper", yref="paper",
                            x=px_x(140), y=px_y(title_y_px[i]), xanchor="left", yanchor="middle",
                            showarrow=False, font=dict(family=SERIF, size=23, color="black")))
    annotations.append(dict(text="<b>" + x_titles[i] + "</b>", xref="paper", yref="paper",
                            x=px_x(712), y=px_y(xtitle_y_px[i]), xanchor="center", yanchor="middle",
                            showarrow=False, font=dict(family=FONT, size=16, color="black")))
    annotations.append(dict(text="<b>" + y_title + "</b>", xref="paper", yref="paper",
                            x=px_x(57), y=px_y((top + bot) / 2), xanchor="center", yanchor="middle",
                            textangle=-90, showarrow=False,
                            font=dict(family=FONT, size=16, color="black")))
    annotations.append(dict(text="R<sup>2</sup> = " + r2_labels[i], xref="paper", yref="paper",
                            x=px_x(1271), y=px_y(r2_y_px[i]), xanchor="right", yanchor="middle",
                            showarrow=False, font=dict(family=FONT, size=16, color="black")))

# outer frame of the figure
shapes.append(dict(type="rect", xref="paper", yref="paper",
                   x0=px_x(3), x1=px_x(1356), y0=px_y(1011), y1=px_y(3),
                   line=dict(color="black", width=2), fillcolor="rgba(0,0,0,0)", layer="above"))

fig.update_layout(
    width=W, height=H, autosize=False,
    margin=dict(l=0, r=0, t=0, b=0),
    paper_bgcolor="white", plot_bgcolor="rgba(0,0,0,0)",
    shapes=shapes, annotations=annotations,
    font=dict(family=FONT, color="black"),
)

page_fix = ("document.body.style.margin='0px';document.body.style.padding='0px';"
            "document.body.style.overflow='hidden';document.documentElement.style.overflow='hidden';")
fig.write_html("out.html", post_script=page_fix, config={"displayModeBar": False})
